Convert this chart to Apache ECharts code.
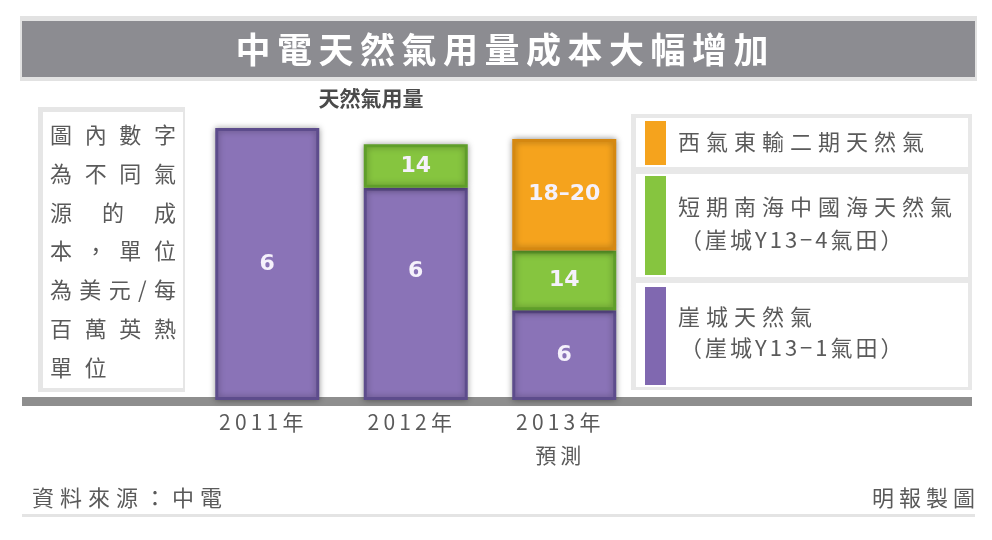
<!DOCTYPE html>
<html lang="zh-Hant"><head><meta charset="utf-8">
<script src="https://cdn.jsdelivr.net/npm/echarts@6.0.0/dist/echarts.min.js"></script>
<style>html,body{margin:0;padding:0;background:#fff}#c{width:992px;height:540px}</style>
</head><body><div id="c" lang="zh-Hant"></div>
<script>
// ---- data ----
const categories = ['2011年', '2012年', '2013年\n預測'];
const yachengVolume = [100, 78, 33];
const shortTermVolume = [null, 16, 22];
const westEastVolume = [null, null, 41];
const yachengCost = ['6', '6', '6'];
const shortTermCost = ['', '14', '14'];
const westEastCost = ['', '', '18–20'];
const seriesNames = ['崖城天然氣（崖城Y13-1氣田）', '短期南海中國海天然氣（崖城Y13-4氣田）', '西氣東輸二期天然氣'];
const titleText = '中電天然氣用量成本大幅增加';
const subtitleText = '天然氣用量';
const noteRows = ['圖內數字', '為不同氣', '源的成', '本，單位', '為美元/每', '百萬英熱', '單位'];
const legendLines = [['西氣東輸二期天然氣'], ['短期南海中國海天然氣', '（崖城Y13−4氣田）'], ['崖城天然氣', '（崖城Y13−1氣田）']];
const sourceText = '資料來源：中電';
const creditText = '明報製圖';

// ---- helpers ----
const FF = '"Noto Sans CJK TC","Noto Sans CJK SC",sans-serif';
const mctx = document.createElement('canvas').getContext('2d');
function widths(str, size, weight) {
  mctx.font = weight + ' ' + size + 'px ' + FF;
  return Array.from(str).map(c => mctx.measureText(c).width);
}
function placeChars(chars, w, startX, y, gap, o) {
  let cx = startX;
  return chars.map((c, i) => {
    const el = {type: 'text', x: cx, y: y, z: 20, silent: true,
      style: {text: c, fill: o.color, font: o.weight + ' ' + o.size + 'px ' + FF, textAlign: 'left', textVerticalAlign: 'middle'}};
    cx += w[i] + gap;
    return el;
  });
}
function spaced(str, x, y, o) {
  const chars = Array.from(str);
  const w = widths(str, o.size, o.weight);
  const total = w.reduce((a, b) => a + b, 0) + o.spacing * (chars.length - 1);
  const sx = o.align === 'center' ? x - total / 2 : (o.align === 'right' ? x - total : x);
  return placeChars(chars, w, sx, y, o.spacing, o);
}
function justified(str, x0, x1, y, o, justify) {
  const chars = Array.from(str);
  const w = widths(str, o.size, o.weight);
  const sum = w.reduce((a, b) => a + b, 0);
  const gap = justify ? (x1 - x0 - sum) / (chars.length - 1) : o.gap;
  return placeChars(chars, w, x0, y, gap, o);
}

const els = [];
// title band
els.push({type: 'rect', z: 0, shape: {x: 20, y: 16, width: 957, height: 65}, style: {fill: '#e2e2e2'}});
els.push({type: 'rect', z: 1, shape: {x: 22, y: 21, width: 953, height: 56}, style: {fill: '#8c8c91'}});
els.push(...spaced(titleText, 502, 50, {size: 35, weight: 'bold', color: '#ffffff', spacing: 6.5, align: 'center'}));
els.push(...spaced(subtitleText, 371, 98, {size: 21, weight: 'bold', color: '#4a4a4a', spacing: 0, align: 'center'}));
// note box
els.push({type: 'rect', z: 0, shape: {x: 38, y: 107, width: 147, height: 285}, style: {fill: '#e6e6e6'}});
els.push({type: 'rect', z: 1, shape: {x: 43, y: 112, width: 140, height: 276}, style: {fill: '#ffffff'}});
const noteStyle = {size: 22, weight: 'normal', color: '#5a5a5a', gap: 12.5};
noteRows.forEach((r, i) => {
  els.push(...justified(r, 50, 176, 135 + i * 38.7, noteStyle, i < noteRows.length - 1));
});
// legend box
els.push({type: 'rect', z: 0, shape: {x: 631, y: 114, width: 341, height: 276}, style: {fill: '#e8e8e8'}});
const secs = [[118, 49], [174, 103], [283, 104]];
secs.forEach(s => els.push({type: 'rect', z: 1, shape: {x: 636, y: s[0], width: 332, height: s[1]}, style: {fill: '#ffffff'}}));
const swatches = [[121, 44, '#f5a31d'], [176, 99, '#86c53f'], [287, 98, '#8068b0']];
swatches.forEach(s => els.push({type: 'rect', z: 2, shape: {x: 645, y: s[0], width: 21, height: s[1]}, style: {fill: s[2]}}));
const legStyle = {size: 22, weight: 'normal', color: '#5a5a5a', spacing: 6, align: 'left'};
els.push(...spaced(legendLines[0][0], 678, 142, legStyle));
els.push(...spaced(legendLines[1][0], 678, 207, legStyle));
els.push(...spaced(legendLines[1][1], 680, 240, Object.assign({}, legStyle, {spacing: 3})));
els.push(...spaced(legendLines[2][0], 678, 317, legStyle));
els.push(...spaced(legendLines[2][1], 680, 348, Object.assign({}, legStyle, {spacing: 3})));
// baseline and footer
els.push({type: 'rect', z: 0, shape: {x: 22, y: 397, width: 950, height: 9}, style: {fill: '#8e8e8e'}});
els.push({type: 'rect', z: 0, shape: {x: 22, y: 514, width: 953, height: 3}, style: {fill: '#e4e4e4'}});
els.push(...spaced(sourceText, 32, 498, {size: 22, weight: 'normal', color: '#5a5a5a', spacing: 6, align: 'left'}));
els.push(...spaced(creditText, 975, 498, {size: 22, weight: 'normal', color: '#5a5a5a', spacing: 5, align: 'right'}));

function seg(name, vals, labels, fill, border, offsets) {
  return {
    name: name, type: 'bar', stack: 'gas', barWidth: 104,
    data: vals.map((v, i) => offsets && offsets[i] ? {value: v, label: {offset: offsets[i]}} : v),
    itemStyle: {color: fill, borderColor: border, borderWidth: 3, shadowBlur: 6, shadowColor: 'rgba(0,0,0,0.35)'},
    label: {show: true, position: 'inside', formatter: p => labels[p.dataIndex], color: '#f5f1fb',
      fontSize: 22, fontWeight: 'bold', fontFamily: 'DejaVu Sans, sans-serif'}
  };
}

const chart = echarts.init(document.getElementById('c'));
chart.setOption({
  animation: false,
  backgroundColor: '#ffffff',
  grid: {left: 193, right: 353.5, top: 128, bottom: 140},
  xAxis: {
    type: 'category', data: categories,
    axisLine: {show: false}, axisTick: {show: false},
    axisLabel: {interval: 0, fontSize: 21, color: '#5a5a5a', lineHeight: 33, margin: 6, fontFamily: FF,
      padding: [0, 12, 0, 0],
      formatter: v => v.split('\n').map(l => Array.from(l).join('\u2009')).join('\n')}
  },
  yAxis: {type: 'value', min: 0, max: 100, show: false},
  graphic: {elements: els},
  series: [
    seg(seriesNames[0], yachengVolume, yachengCost, '#8a73b7', '#5d4c8c', [null, [0, -23], null]),
    seg(seriesNames[1], shortTermVolume, shortTermCost, '#86c53f', '#5f9e2a'),
    seg(seriesNames[2], westEastVolume, westEastCost, '#f5a31d', '#d58811')
  ]
});
</script>
</body></html>
